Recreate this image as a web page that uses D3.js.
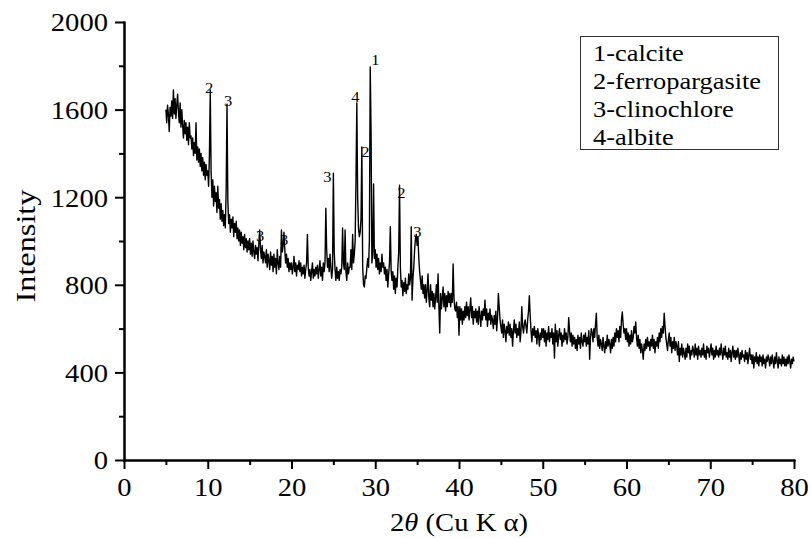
<!DOCTYPE html>
<html><head><meta charset="utf-8">
<script src="https://cdn.jsdelivr.net/npm/d3@7"></script>
<style>
body{margin:0;background:#fff}
svg{display:block}
</style>
</head><body>
<svg id="c" width="810" height="538"></svg>
<script>
// ---- data (2θ scan, 0.1° steps from 5° to 80°) ----
const scanStart = 5, scanStep = 0.1;
const scan05to20 = [
1600,1540,1620,1580,1500,1610,1570,1640,1560,1690,
1580,1650,1560,1620,1670,1590,1540,1630,1520,1600,
1530,1470,1550,1490,1540,1460,1520,1440,1540,1470,
1480,1420,1470,1390,1450,1400,1540,1370,1430,1360,
1420,1340,1400,1320,1380,1300,1360,1280,1350,1300,
1320,1250,1390,1690,1320,1200,1280,1160,1250,1180,
1220,1130,1250,1150,1190,1100,1170,1090,1140,1070,
1120,1060,1240,1625,1180,1080,1120,1040,1100,1060,
1110,1020,1080,1040,1090,1010,1060,1000,1050,980,
1040,990,1020,960,1030,970,1010,950,1000,960,
1010,940,990,930,1000,950,920,980,940,970,
910,990,1050,960,920,980,900,950,930,900,
960,880,940,910,870,950,890,930,860,940,
880,920,850,960,900,870,930,880,1050,950,
980,1040,960,900,940,880,920,860,900,870];
const scan20to35 = [
900,850,880,930,860,900,840,890,870,910,
860,900,840,880,850,890,830,870,900,1030,
880,840,870,820,860,900,830,870,840,880,
850,890,830,870,910,840,880,820,900,860,
900,1150,960,880,920,860,940,880,830,870,
1310,950,870,820,880,830,860,820,870,850,
880,1060,900,870,1050,860,820,900,850,880,
880,960,870,1030,900,940,1000,1280,1630,1200,
1060,1020,1040,1100,1430,880,800,790,840,830,
880,920,880,1000,1795,1500,900,950,1260,920,
960,880,940,870,920,850,900,860,940,880,
900,850,880,820,870,790,850,900,1065,860,
820,860,780,840,760,830,790,880,950,1255,
880,790,820,750,810,770,830,760,800,780,
850,800,830,1065,730,830,880,960,1010,1030];
const scan35to50 = [
980,1020,920,860,820,780,840,760,800,740,
800,720,780,850,740,700,800,730,770,700,
760,690,740,800,720,850,700,580,760,690,
740,790,700,760,680,750,700,770,720,760,
700,760,720,895,740,690,680,720,650,700,
570,700,640,690,620,680,640,700,650,720,
660,700,640,690,740,650,700,620,680,650,
690,630,680,620,700,660,610,680,640,690,
660,730,640,690,610,670,640,690,620,660,
640,600,660,620,680,590,650,760,700,640,
610,580,640,560,620,590,540,610,580,630,
570,620,560,600,520,590,640,580,620,560,
600,570,630,540,590,700,610,580,620,640,
610,580,640,680,750,660,590,540,600,570,
610,560,590,530,600,570,520,580,550,600];
const scan50to65 = [
560,600,540,590,520,580,550,610,540,580,
560,600,530,580,465,620,540,590,520,570,
600,550,580,520,570,540,600,550,580,530,
560,650,590,540,580,520,570,530,560,510,
550,500,570,530,560,510,580,540,520,570,
540,580,520,560,530,590,460,560,600,580,
540,600,560,620,670,560,520,570,510,550,
530,500,560,520,490,540,510,570,520,550,
530,490,550,510,560,520,580,540,600,560,
590,540,610,560,640,676,620,580,600,550,
600,540,580,520,570,530,590,540,560,610,
580,630,560,520,570,510,550,490,530,500,
460,530,500,550,510,560,520,540,500,550,
520,570,510,550,490,540,520,560,510,580,
540,600,560,610,580,670,610,560,530,500];
const scan65to80 = [
550,580,520,560,490,540,510,560,500,540,
520,480,540,450,510,480,530,470,510,490,
460,510,470,530,490,520,460,500,480,520,
500,470,530,480,510,460,520,480,500,470,
510,480,530,470,500,460,520,490,510,470,
500,530,480,510,460,500,470,520,480,500,
470,510,480,530,490,460,510,480,520,470,
490,460,510,470,500,450,490,520,470,500,
460,500,470,510,480,440,490,460,500,470,
480,450,500,460,490,440,480,510,460,480,
440,480,420,470,450,490,440,470,430,480,
450,470,430,480,440,460,420,470,450,480,
460,430,470,440,480,450,420,470,440,490,
450,420,470,440,460,430,480,440,470,430,
460,430,470,440,480,450,420,460,440,470,
450];

const peakLabels = ["2","3","3","3","3","4","2","1","2","3"];
const peakLabelX = [10.16,12.44,16.26,19.13,24.27,27.62,28.82,30.01,33.12,35.04];
const peakLabelY = [1699,1639,1023,1005,1292,1657,1406,1826,1219,1041];

const legendItems = ["1-calcite","2-ferropargasite","3-clinochlore","4-albite"];
const xTicks = [0,10,20,30,40,50,60,70,80];
const xMinorTicks = [5,15,25,35,45,55,65,75];
const yTicks = [0,400,800,1200,1600,2000];
const yMinorTicks = [200,600,1000,1400,1800];

// ---- pick an installed Times-like serif ----
const cv = document.createElement("canvas").getContext("2d");
function has(f){
  const s = "Intensity 1-ferropargasite 0123456789";
  cv.font = "40px monospace"; const a = cv.measureText(s).width;
  cv.font = `40px "${f}", monospace`; const b = cv.measureText(s).width;
  return Math.abs(a-b) > 0.5;
}
const candidates = ["Liberation Serif","Times New Roman","Tinos","Nimbus Roman","Nimbus Roman No9 L","FreeSerif","Noto Serif","DejaVu Serif"];
const serifFont = candidates.find(has) || "serif";
const FF = `"${serifFont}", serif`;

// ---- build ----
const intensity = [].concat(scan05to20, scan20to35, scan35to50, scan50to65, scan65to80);
const data = intensity.map((v,i)=>({t: +(scanStart + i*scanStep).toFixed(2), v}));

const svg = d3.select("#c");
const sx = 1.1; // horizontal text stretch of the original figure
const x = d3.scaleLinear().domain([0,80]).range([124,794]);
const y = d3.scaleLinear().domain([0,2000]).range([460,22]);

// line
svg.append("path").datum(data)
  .attr("fill","none").attr("stroke","#000").attr("stroke-width",1.4)
  .attr("stroke-linejoin","round")
  .attr("d", d3.line().x(d=>x(d.t)).y(d=>y(d.v)));

// axes
function styleAxis(g){
  g.select(".domain").attr("stroke","#000").attr("stroke-width",2);
  g.selectAll(".tick line").attr("stroke","#000").attr("stroke-width",2);
}
const gxMinor = svg.append("g").attr("transform","translate(0,460)")
  .call(d3.axisBottom(x).tickValues(xMinorTicks).tickSize(5).tickSizeOuter(0).tickFormat(""));
styleAxis(gxMinor);
const gx = svg.append("g").attr("transform","translate(0,460)")
  .call(d3.axisBottom(x).tickValues(xTicks).tickSize(9).tickSizeOuter(0).tickFormat(d3.format("d")));
styleAxis(gx);
gx.selectAll(".tick text").attr("y",36).attr("dy",null).attr("fill","#000")
  .attr("font-size",26).attr("font-family",FF).attr("transform",`scale(${sx},1)`);

const gyMinor = svg.append("g").attr("transform","translate(124,0)")
  .call(d3.axisLeft(y).tickValues(yMinorTicks).tickSize(5).tickSizeOuter(0).tickFormat(""));
styleAxis(gyMinor);
const gy = svg.append("g").attr("transform","translate(124,0)")
  .call(d3.axisLeft(y).tickValues(yTicks).tickSize(9).tickSizeOuter(0).tickFormat(d3.format("d")));
styleAxis(gy);
gy.selectAll(".tick text").attr("x",-16/sx).attr("dy","0.34em").attr("fill","#000")
  .attr("font-size",26).attr("font-family",FF).attr("transform",`scale(${sx},1)`);
svg.selectAll(".domain").attr("stroke-linecap","square");

// axis titles
const xt = svg.append("text").attr("text-anchor","middle").attr("font-size",26).attr("font-family",FF)
  .attr("transform",`translate(${(x(0)+x(80))/2},531) scale(${sx},1)`);
xt.append("tspan").text("2");
xt.append("tspan").attr("font-style","italic").text("θ");
xt.append("tspan").text(" (Cu K α)");

svg.append("text").attr("text-anchor","middle").attr("font-size",27).attr("font-family",FF)
  .attr("transform",`translate(35,246) rotate(-90)`)
  .attr("textLength",113).attr("lengthAdjust","spacingAndGlyphs")
  .text("Intensity");

// peak labels
svg.append("g").selectAll("text").data(peakLabels).join("text")
  .attr("text-anchor","middle").attr("font-size",15).attr("font-family",FF)
  .attr("transform",(d,i)=>`translate(${x(peakLabelX[i])},${y(peakLabelY[i])+5}) scale(${sx},1)`)
  .text(d=>d);

// legend
const lg = svg.append("g");
lg.append("rect").attr("x",580.5).attr("y",36.5).attr("width",198).attr("height",113)
  .attr("fill","#fff").attr("stroke","#333").attr("stroke-width",1);
lg.selectAll("text").data(legendItems).join("text")
  .attr("font-size",24).attr("font-family",FF)
  .attr("transform",(d,i)=>`translate(593,${61+i*28}) scale(${sx},1)`)
  .text(d=>d);
</script>
</body></html>
